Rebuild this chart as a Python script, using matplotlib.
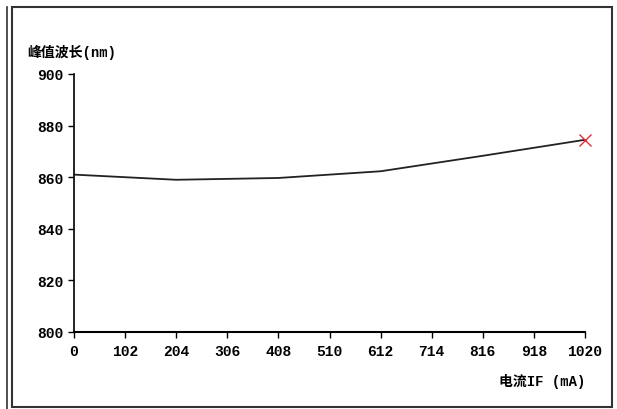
import matplotlib
matplotlib.use("Agg")
from matplotlib import pyplot as plt
from matplotlib.patches import Rectangle

plt.rcParams['font.family'] = ['Liberation Mono', 'Noto Sans CJK SC', 'DejaVu Sans']

# data
dianliu = [0, 204, 408, 612, 816, 1020]
bochang = [861, 859, 859.7, 862.3, 868.3, 874.5]
x_ticks = [0, 102, 204, 306, 408, 510, 612, 714, 816, 918, 1020]
y_ticks = [800, 820, 840, 860, 880, 900]

fig = plt.figure(figsize=(6.17, 4.10), dpi=100)

# outer frame lines
fig.patches.append(Rectangle((12/617, 0.005), 600/617, 0.975, transform=fig.transFigure,
                             fill=False, edgecolor='#333333', lw=1.5))
fig.add_artist(plt.Line2D([7/617, 7/617], [0.0, 0.98], transform=fig.transFigure,
                          color='#333333', lw=1.2))

ax = fig.add_axes([74/617, 1 - 333/410, (585 - 74)/617, (333 - 75)/410])
ax.plot(dianliu, bochang, color='#222222', lw=1.3)
ax.plot(dianliu[-1], bochang[-1], marker='x', color='#e0303a', ms=8, mew=1, clip_on=False)

ax.set_xlim(0, 1020)
ax.set_ylim(800, 900)
ax.set_xticks(x_ticks)
ax.set_yticks(y_ticks)
ax.tick_params(direction='out', length=4, width=1, labelsize=10.5)
ax.tick_params(axis='x', pad=5)
for lbl in ax.get_xticklabels() + ax.get_yticklabels():
    lbl.set_fontweight('bold')
ax.spines['top'].set_visible(False)
ax.spines['right'].set_visible(False)
ax.spines['left'].set_linewidth(1.2)
ax.spines['bottom'].set_linewidth(1.5)

fig.text(27/617, 1 - 52/410, '峰值波长(nm)', fontsize=10, fontweight='bold', va='center', ha='left')
fig.text(585/617, 1 - 382/410, '电流IF (mA)', fontsize=10, fontweight='bold', va='center', ha='right')

plt.savefig('out.png', dpi=100)
